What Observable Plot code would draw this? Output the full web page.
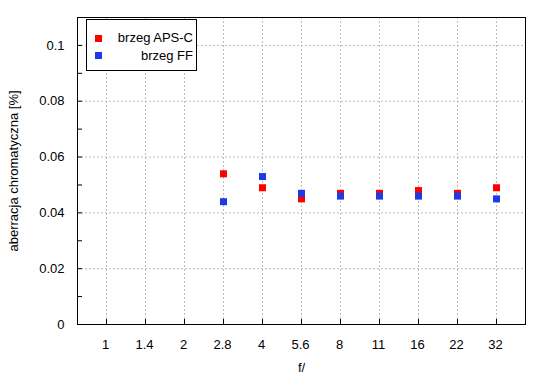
<!DOCTYPE html>
<html><head><meta charset="utf-8">
<script src="https://cdn.jsdelivr.net/npm/d3@7"></script>
<script src="https://cdn.jsdelivr.net/npm/@observablehq/plot@0.6"></script>
<style>
body{margin:0;background:#fff;font-family:"Liberation Sans",Arial,sans-serif;}
#wrap{position:relative;width:550px;height:380px;}
.legend{position:absolute;left:86px;top:19px;width:109px;height:50px;border:1px solid #000;background:#fff;font-size:13px;color:#000}
.row{position:absolute;left:0;right:3px;height:16px;line-height:16px;text-align:right}
.sw{position:absolute;left:8px;top:4.5px;width:7px;height:7px}
</style></head>
<body><div id="wrap"></div>
<script>
const fstops = ["1","1.4","2","2.8","4","5.6","8","11","16","22","32"];
const measuredStops = ["2.8","4","5.6","8","11","16","22","32"];
const apscValues = [0.054,0.049,0.045,0.047,0.047,0.048,0.047,0.049];
const ffValues = [0.044,0.053,0.047,0.046,0.046,0.046,0.046,0.045];
const seriesNames = ["brzeg APS-C","brzeg FF"];
const seriesColors = ["#ff0000","#1a3ce8"];
const yMajor = [0,0.02,0.04,0.06,0.08,0.1];
const yMinor = [0,0.01,0.02,0.03,0.04,0.05,0.06,0.07,0.08,0.09,0.1];

const apsc = measuredStops.map((f,i)=>({f, v: apscValues[i]}));
const ff = measuredStops.map((f,i)=>({f, v: ffValues[i]}));
const grid = {stroke:"#bdbdbd", strokeOpacity:1, strokeDasharray:"2,2"};

const chart = Plot.plot({
  width:550, height:380,
  marginLeft:77, marginRight:25, marginTop:17, marginBottom:56,
  style:{fontFamily:"Liberation Sans, Arial, sans-serif", fontSize:"13px", color:"#000", background:"#fff"},
  x:{type:"point", domain:fstops, padding:0.657},
  y:{domain:[0,0.11]},
  marks:[
    Plot.gridX(fstops, grid),
    Plot.gridY(yMajor.slice(1), grid),
    Plot.axisX({tickSize:-5, tickFormat:()=>"", label:null}),
    Plot.axisX({tickSize:0, tickPadding:15, dx:-1, label:"f/", labelAnchor:"center", labelArrow:"none", labelOffset:47}),
    Plot.axisY(yMinor, {tickSize:-5, tickFormat:()=>"", label:null}),
    Plot.axisY(yMajor, {tickSize:0, tickPadding:13, tickFormat:d=>String(+d.toFixed(2)), label:"aberracja chromatyczna [%]", labelAnchor:"center", labelArrow:"none", labelOffset:69}),
    Plot.dot(apsc, {x:"f", y:"v", symbol:"square", r:3.95, fill:seriesColors[0]}),
    Plot.dot(ff, {x:"f", y:"v", symbol:"square", r:3.95, fill:seriesColors[1]}),
    Plot.frame({stroke:"#000", strokeWidth:1})
  ]
});
const wrap = document.getElementById("wrap");
wrap.appendChild(chart);
const lg = document.createElement("div");
lg.className = "legend";
seriesNames.forEach((n,i)=>{
  const r = document.createElement("div");
  r.className = "row";
  r.style.top = (10 + i*17.5) + "px";
  const s = document.createElement("span");
  s.className = "sw"; s.style.background = seriesColors[i];
  r.appendChild(s);
  r.appendChild(document.createTextNode(n));
  lg.appendChild(r);
});
wrap.appendChild(lg);
</script>
</body></html>
